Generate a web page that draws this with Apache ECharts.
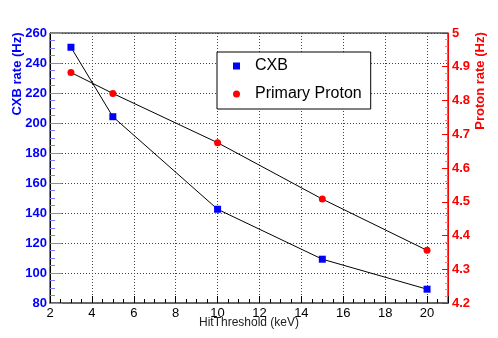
<!DOCTYPE html>
<html>
<head>
<meta charset="utf-8">
<script src="https://cdn.jsdelivr.net/npm/echarts@6/dist/echarts.min.js"></script>
<style>
html, body { margin: 0; padding: 0; background: #fff; }
#main { width: 498px; height: 338px; }
</style>
</head>
<body>
<div id="main"></div>
<script>
// values
var thresholds = [3, 5, 10, 15, 20];
var cxbRate = [250.5, 204.2, 142.5, 109.2, 89.2];
var protonRate = [4.883, 4.821, 4.675, 4.508, 4.356];
var seriesNames = ['CXB', 'Primary Proton'];

function pairs(xs, ys) {
    return xs.map(function (x, i) { return [x, ys[i]]; });
}

var font = 'Liberation Sans, Arial, Helvetica, sans-serif';

var option = {
    animation: false,
    backgroundColor: '#fff',
    grid: {
        left: 50, right: 50, top: 33, bottom: 35,
        show: true, borderColor: '#000', borderWidth: 1
    },
    legend: {
        data: [
            {name: seriesNames[0], icon: 'rect'},
            {name: seriesNames[1], icon: 'circle'}
        ],
        orient: 'vertical',
        left: 217, top: 52,
        itemWidth: 7, itemHeight: 7,
        itemGap: 12,
        padding: [6, 9, 7, 16],
        backgroundColor: '#fff',
        borderColor: '#000',
        borderWidth: 1,
        selectedMode: false,
        textStyle: {fontFamily: font, fontSize: 16, color: '#000', padding: [0, 0, 0, 10]}
    },
    xAxis: {
        type: 'value',
        min: 2, max: 21, interval: 2,
        axisLine: {lineStyle: {color: '#666', width: 2}},
        axisTick: {inside: true, length: 7, lineStyle: {color: '#000'}},
        minorTick: {show: true, splitNumber: 4, length: 4, lineStyle: {color: '#000'}},
        axisLabel: {
            fontFamily: font, fontSize: 13, color: '#000', margin: 4, showMaxLabel: false
        },
        splitLine: {show: true, lineStyle: {color: '#444', type: [1, 2], width: 1}}
    },
    yAxis: [
        {
            type: 'value',
            min: 80, max: 260, interval: 20,
            axisLine: {show: true, lineStyle: {color: '#000', width: 1}},
            axisTick: {show: true, inside: true, length: 12, lineStyle: {color: '#7f7fff'}},
            minorTick: {show: true, splitNumber: 4, length: 5, lineStyle: {color: '#7f7fff'}},
            axisLabel: {
                fontFamily: font, fontSize: 13, fontWeight: 'bold', color: '#0000ff', margin: 3
            },
            splitLine: {show: true, lineStyle: {color: '#444', type: [1, 2], width: 1}}
        },
        {
            type: 'value',
            position: 'right',
            min: 4.2, max: 5, interval: 0.1,
            axisLine: {show: true, lineStyle: {color: '#ff0000', width: 1}},
            axisTick: {show: true, inside: true, length: 6, lineStyle: {color: '#ff0000'}},
            minorTick: {show: true, splitNumber: 5, length: 3, lineStyle: {color: '#ff7f7f'}},
            axisLabel: {
                fontFamily: font, fontSize: 13, fontWeight: 'bold', color: '#ff0000', margin: 4,
                formatter: function (v) { return String(+v.toFixed(1)); }
            },
            splitLine: {show: false}
        }
    ],
    series: [
        {
            name: seriesNames[0],
            type: 'line',
            yAxisIndex: 0,
            data: pairs(thresholds, cxbRate),
            symbol: 'rect',
            symbolSize: 7,
            itemStyle: {color: '#0000ff'},
            lineStyle: {color: '#000', width: 1}
        },
        {
            name: seriesNames[1],
            type: 'line',
            yAxisIndex: 1,
            data: pairs(thresholds, protonRate),
            symbol: 'circle',
            symbolSize: 7,
            itemStyle: {color: '#ff0000'},
            lineStyle: {color: '#000', width: 1}
        }
    ],
    graphic: [
        {
            type: 'text', x: 17, y: 74, rotation: Math.PI / 2,
            style: {
                text: 'CXB rate (Hz)', fontFamily: font, fontSize: 13, fontWeight: 'bold',
                fill: '#0000ff', align: 'center', verticalAlign: 'middle'
            }
        },
        {
            type: 'text', x: 480, y: 81, rotation: Math.PI / 2,
            style: {
                text: 'Proton rate (Hz)', fontFamily: font, fontSize: 13, fontWeight: 'bold',
                fill: '#ff0000', align: 'center', verticalAlign: 'middle'
            }
        },
        {
            type: 'text', x: 249, y: 323,
            style: {
                text: 'HitThreshold (keV)', fontFamily: font, fontSize: 12,
                fill: '#222', align: 'center', verticalAlign: 'middle'
            }
        }
    ]
};

var myChart = echarts.init(document.getElementById('main'));
myChart.setOption(option);
</script>
</body>
</html>
